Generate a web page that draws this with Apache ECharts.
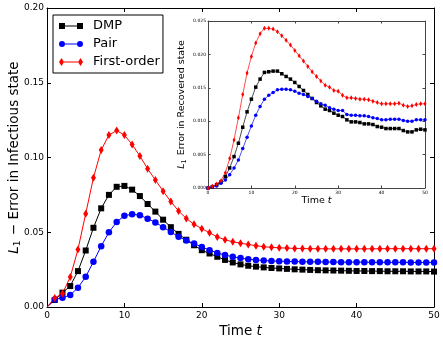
<!DOCTYPE html>
<html>
<head>
<meta charset="utf-8">
<script src="https://cdn.jsdelivr.net/npm/echarts@6/dist/echarts.min.js"></script>
<style>
    html, body { margin: 0; padding: 0; background: #fff; }
    #chart { width: 443px; height: 338px; }
</style>
</head>
<body>
<div id="chart"></div>
<script>
var times = [0, 1, 2, 3, 4, 5, 6, 7, 8, 9, 10, 11, 12, 13, 14, 15, 16, 17, 18, 19, 20, 21, 22, 23, 24, 25,
    26, 27, 28, 29, 30, 31, 32, 33, 34, 35, 36, 37, 38, 39, 40, 41, 42, 43, 44, 45, 46, 47, 48, 49, 50];

// main plot: error in infectious state
var dmpInf = [0, 0.0047, 0.0096, 0.014, 0.024, 0.0378, 0.053, 0.066, 0.075, 0.0804, 0.081, 0.0785, 0.0742,
    0.0689, 0.0638, 0.0584, 0.0534, 0.0489, 0.045, 0.0413, 0.038, 0.0358, 0.0336, 0.0315, 0.0298, 0.0285,
    0.0276, 0.027, 0.0265, 0.0261, 0.0258, 0.0255, 0.0252, 0.025, 0.0248, 0.0246, 0.0245, 0.0244, 0.0243,
    0.0242, 0.0241, 0.0241, 0.024, 0.024, 0.0239, 0.0239, 0.0239, 0.0238, 0.0238, 0.0238, 0.0237];
var pairInf = [0, 0.005, 0.0062, 0.008, 0.0129, 0.0202, 0.0302, 0.0407, 0.05, 0.0569, 0.061, 0.0621, 0.0614,
    0.0591, 0.0566, 0.0534, 0.0502, 0.047, 0.0445, 0.0424, 0.0402, 0.038, 0.0362, 0.0347, 0.0336, 0.0327,
    0.032, 0.0315, 0.0311, 0.0308, 0.0306, 0.0305, 0.0304, 0.0303, 0.0302, 0.0302, 0.0301, 0.0301, 0.03,
    0.03, 0.03, 0.03, 0.0299, 0.0299, 0.0299, 0.0299, 0.0299, 0.0298, 0.0298, 0.0298, 0.0298];
var firstInf = [0, 0.006, 0.009, 0.02, 0.0385, 0.0624, 0.0864, 0.105, 0.115, 0.118, 0.115, 0.1087, 0.101,
    0.0924, 0.085, 0.0775, 0.0705, 0.0642, 0.0592, 0.0553, 0.0524, 0.0496, 0.0469, 0.045, 0.0436, 0.0427,
    0.0418, 0.041, 0.0403, 0.0399, 0.0396, 0.0394, 0.0392, 0.0391, 0.039, 0.039, 0.0389, 0.0389, 0.0389,
    0.0389, 0.0389, 0.0389, 0.0389, 0.039, 0.039, 0.039, 0.039, 0.039, 0.039, 0.039, 0.039];

// inset: error in recovered state
var dmpRec = [0, 0.0002, 0.0005, 0.0009, 0.0017, 0.003, 0.0047, 0.0067, 0.0091, 0.0114, 0.0133, 0.0151,
    0.0163, 0.0173, 0.0174, 0.0175, 0.0175, 0.0171, 0.0167, 0.0163, 0.0158, 0.0152, 0.0146, 0.014, 0.0134,
    0.0128, 0.0123, 0.0118, 0.0116, 0.0112, 0.0109, 0.0107, 0.0102, 0.0099, 0.0099, 0.0098, 0.0096, 0.0096,
    0.0095, 0.0092, 0.0091, 0.0089, 0.0089, 0.0089, 0.0089, 0.0086, 0.0084, 0.0084, 0.0087, 0.0088, 0.0087];
var pairRec = [0, 0.00015, 0.0003, 0.0007, 0.0012, 0.002, 0.003, 0.0042, 0.0059, 0.0076, 0.0093, 0.0109,
    0.0122, 0.0133, 0.0139, 0.0143, 0.0147, 0.0148, 0.0148, 0.0147, 0.0145, 0.0142, 0.014, 0.0137, 0.0134,
    0.013, 0.0126, 0.0124, 0.012, 0.0118, 0.0116, 0.0116, 0.011, 0.0109, 0.0109, 0.0108, 0.0108, 0.0107,
    0.0105, 0.0104, 0.0102, 0.0102, 0.0103, 0.0103, 0.0103, 0.0101, 0.01, 0.01, 0.0102, 0.0102, 0.0102];
var firstRec = [0, 0.00025, 0.0006, 0.0011, 0.0023, 0.0044, 0.0072, 0.0105, 0.014, 0.0172, 0.0197, 0.0217,
    0.0231, 0.0239, 0.0239, 0.0238, 0.0234, 0.0228, 0.0221, 0.0214, 0.0206, 0.0198, 0.019, 0.0182, 0.0174,
    0.0167, 0.016, 0.0154, 0.0151, 0.0146, 0.0145, 0.0139, 0.0135, 0.0135, 0.0134, 0.0133, 0.0133, 0.0132,
    0.013, 0.0128, 0.0126, 0.0126, 0.0126, 0.0126, 0.0127, 0.0124, 0.0122, 0.0123, 0.0125, 0.0126, 0.0126];

var seriesNames = ['DMP', 'Pair', 'First-order'];

var FONT = 'DejaVu Sans';

function pairs(ys) {
    var out = [];
    for (var i = 0; i < times.length; i++) {
        out.push([times[i], ys[i]]);
    }
    return out;
}

function hideOrigin(size) {
    return function (v) {
        return v[0] === 0 ? 0 : size;
    };
}

function frameAxis(type, grid, pos, opts) {
    var a = {
        type: 'value',
        gridIndex: grid,
        position: pos,
        min: opts.min,
        max: opts.max,
        interval: opts.interval,
        z: opts.z || 0,
        axisLine: { show: true, onZero: false, lineStyle: { color: opts.color, width: 1 } },
        axisTick: { show: true, inside: true, length: opts.tick, lineStyle: { color: opts.color, width: 1 } },
        axisLabel: { show: false },
        splitLine: { show: false }
    };
    if (opts.labels) {
        a.axisLabel = {
            show: true,
            margin: opts.margin,
            color: '#000',
            fontFamily: FONT,
            fontSize: opts.fontSize,
            formatter: opts.formatter
        };
    }
    return a;
}

var chart = echarts.init(document.getElementById('chart'), null, { renderer: 'canvas' });

var mainX = frameAxis('x', 0, 'bottom', {
    min: 0, max: 50, interval: 10, color: '#000', tick: 4,
    labels: true, margin: 4, fontSize: 9,
    formatter: function (v) { return String(v); }
});
mainX.name = 'Time {it|t}';
mainX.nameLocation = 'middle';
mainX.nameGap = 16;
mainX.nameTextStyle = {
    color: '#000', fontFamily: FONT, fontSize: 13.5,
    rich: { it: { fontStyle: 'italic', fontFamily: FONT, fontSize: 13.5 } }
};

var mainY = frameAxis('y', 0, 'left', {
    min: 0, max: 0.2, interval: 0.05, color: '#000', tick: 4,
    labels: true, margin: 3, fontSize: 9,
    formatter: function (v) { return v.toFixed(2); }
});
mainY.name = '{it|L}{sub|1} \u2212 Error in Infectious state';
mainY.nameLocation = 'middle';
mainY.nameGap = 25;
mainY.nameMoveOverlap = false;
mainY.nameTextStyle = {
    color: '#000', fontFamily: FONT, fontSize: 13.5,
    rich: {
        it: { fontStyle: 'italic', fontFamily: FONT, fontSize: 13.5 },
        sub: { fontFamily: FONT, fontSize: 9, padding: [7, 1, 0, 0] }
    }
};

var insetX = frameAxis('x', 1, 'bottom', {
    min: 0, max: 50, interval: 10, color: '#444', tick: 2.5, z: 6,
    labels: true, margin: 2, fontSize: 4.5,
    formatter: function (v) { return String(v); }
});
insetX.name = 'Time {it|t}';
insetX.nameLocation = 'middle';
insetX.nameGap = 8;
insetX.nameTextStyle = {
    color: '#000', fontFamily: FONT, fontSize: 9.5,
    rich: { it: { fontStyle: 'italic', fontFamily: FONT, fontSize: 9.5 } }
};

var insetY = frameAxis('y', 1, 'left', {
    min: 0, max: 0.025, interval: 0.005, color: '#444', tick: 2.5, z: 6,
    labels: true, margin: 2, fontSize: 4.5,
    formatter: function (v) { return v.toFixed(3); }
});
insetY.name = '{it|L}{sub|1} Error in Recovered state';
insetY.nameLocation = 'middle';
insetY.nameGap = 20;
insetY.nameMoveOverlap = false;
insetY.nameTextStyle = {
    color: '#000', fontFamily: FONT, fontSize: 9.5,
    rich: {
        it: { fontStyle: 'italic', fontFamily: FONT, fontSize: 9.5 },
        sub: { fontFamily: FONT, fontSize: 6.5, padding: [5, 1, 0, 0] }
    }
};

var option = {
    animation: false,
    backgroundColor: '#fff',
    grid: [
        { left: 47, right: 9, top: 8, bottom: 31, show: false, outerBoundsMode: 'none', containLabel: false },
        {
            left: 208, right: 18, top: 21, bottom: 150, show: true, backgroundColor: '#fff', borderWidth: 0, z: 5,
            outerBoundsMode: 'none', containLabel: false
        }
    ],
    xAxis: [
        mainX,
        frameAxis('x', 0, 'top', { min: 0, max: 50, interval: 10, color: '#000', tick: 4 }),
        insetX,
        frameAxis('x', 1, 'top', { min: 0, max: 50, interval: 10, color: '#444', tick: 2.5, z: 6 })
    ],
    yAxis: [
        mainY,
        frameAxis('y', 0, 'right', { min: 0, max: 0.2, interval: 0.05, color: '#000', tick: 4 }),
        insetY,
        frameAxis('y', 1, 'right', { min: 0, max: 0.025, interval: 0.005, color: '#444', tick: 2.5, z: 6 })
    ],
    legend: {
        left: 53,
        top: 15,
        orient: 'vertical',
        selectedMode: false,
        backgroundColor: '#fff',
        borderColor: '#000',
        borderWidth: 1,
        borderRadius: 0,
        padding: [3, 3, 3, 6],
        itemGap: 2,
        itemWidth: 24,
        itemHeight: 8,
        itemStyle: { borderWidth: 0 },
        textStyle: { color: '#000', fontFamily: FONT, fontSize: 13, lineHeight: 16, padding: [0, 0, 0, 5] },
        data: [
            { name: seriesNames[0], icon: 'path://M0,0M24,8M0,1h6v6H0z M6,3.5h12v1H6z M18,1h6v6h-6z' },
            { name: seriesNames[1], icon: 'path://M0,0M24,8M0,4a3,3 0 1,0 6,0a3,3 0 1,0 -6,0z M6,3.5h12v1H6z M18,4a3,3 0 1,0 6,0a3,3 0 1,0 -6,0z' },
            { name: seriesNames[2], icon: 'path://M0,0M24,8M2.5,0L5,4L2.5,8L0,4z M5,3.5h14v1H5z M21.5,0L24,4L21.5,8L19,4z' }
        ]
    },
    series: [
        {
            name: seriesNames[0], type: 'line', xAxisIndex: 0, yAxisIndex: 0,
            data: pairs(dmpInf), symbol: 'rect', symbolSize: hideOrigin(6), z: 2,
            lineStyle: { color: '#000', width: 1 }, itemStyle: { color: '#000' }
        },
        {
            name: seriesNames[1], type: 'line', xAxisIndex: 0, yAxisIndex: 0,
            data: pairs(pairInf), symbol: 'circle', symbolSize: hideOrigin(6.5), z: 2,
            lineStyle: { color: '#0000ff', width: 1 }, itemStyle: { color: '#0000ff' }
        },
        {
            name: seriesNames[2], type: 'line', xAxisIndex: 0, yAxisIndex: 0,
            data: pairs(firstInf), symbol: 'diamond', symbolSize: function (v) { return v[0] === 0 ? 0 : [5, 8]; }, z: 2,
            lineStyle: { color: '#ff0000', width: 1 }, itemStyle: { color: '#ff0000' }
        },
        {
            name: seriesNames[0], type: 'line', xAxisIndex: 2, yAxisIndex: 2,
            data: pairs(dmpRec), symbol: 'rect', symbolSize: 3.5, z: 7,
            lineStyle: { color: '#000', width: 0.7 }, itemStyle: { color: '#000' }
        },
        {
            name: seriesNames[1], type: 'line', xAxisIndex: 2, yAxisIndex: 2,
            data: pairs(pairRec), symbol: 'circle', symbolSize: 3.5, z: 7,
            lineStyle: { color: '#0000ff', width: 0.7 }, itemStyle: { color: '#0000ff' }
        },
        {
            name: seriesNames[2], type: 'line', xAxisIndex: 2, yAxisIndex: 2,
            data: pairs(firstRec), symbol: 'diamond', symbolSize: [3, 5], z: 7,
            lineStyle: { color: '#ff0000', width: 0.7 }, itemStyle: { color: '#ff0000' }
        }
    ]
};

chart.setOption(option);
</script>
</body>
</html>
